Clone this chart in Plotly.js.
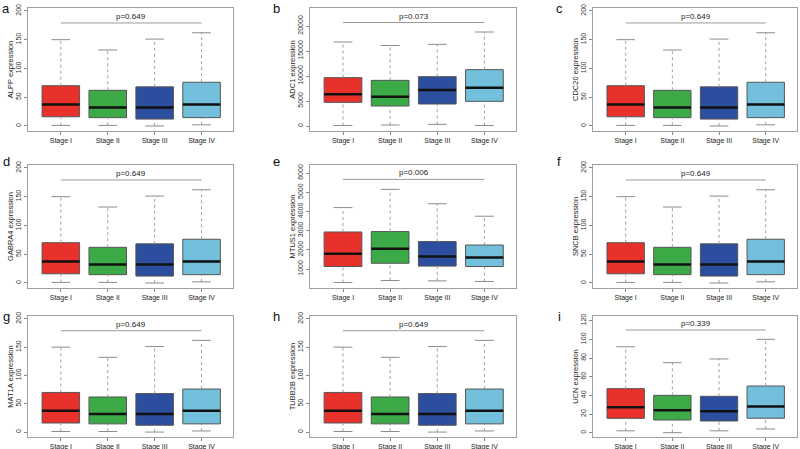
<!DOCTYPE html>
<html>
<head>
<meta charset="utf-8">
<script src="https://cdn.plot.ly/plotly-3.0.1.min.js"></script>
<style>
  html, body { margin: 0; padding: 0; background: white; }
  #chart { width: 800px; height: 449px; }
</style>
</head>
<body>
<div id="chart"></div>
<script>
  const stageLabels = ["Stage I", "Stage II", "Stage III", "Stage IV"];
  const stageColors = ["#E8312B", "#3CAB47", "#2C4E9E", "#72C0DC"];
  const panelLetters = ["a", "b", "c", "d", "e", "f", "g", "h", "i"];
  const geneNames = ["ALPP", "ADC1", "CDC20", "GABRA4", "MTUS1", "SNCB", "MAT1A", "TUBB2B", "UCN"];
  const pLabels = ["p=0.649", "p=0.073", "p=0.649", "p=0.649", "p=0.006", "p=0.649", "p=0.649", "p=0.649", "p=0.339"];

  // per-stage summaries: lower whisker, Q1, median, Q3, upper whisker
  // (panels a, c, d, f, g, h share the same look)
  const sharedLo = [1, 1, 0, 2];
  const sharedQ1 = [16, 14.5, 12, 14.5];
  const sharedMed = [37.5, 32, 32, 37.5];
  const sharedQ3 = [70, 62, 68, 76];
  const sharedHi = [150, 132, 151, 162];

  const adc1Lo = [100, 200, 330, 100];
  const adc1Q1 = [4730, 4000, 4400, 4930];
  const adc1Med = [6330, 5870, 7200, 7670];
  const adc1Q3 = [9670, 9130, 9870, 11270];
  const adc1Hi = [16800, 16100, 16330, 18800];

  const mtus1Lo = [300, 400, 380, 350];
  const mtus1Q1 = [1130, 1300, 1150, 1130];
  const mtus1Med = [1800, 2050, 1650, 1600];
  const mtus1Q3 = [2930, 2950, 2430, 2250];
  const mtus1Hi = [4200, 5150, 4400, 3750];

  const ucnLo = [2, 0, 2, 4];
  const ucnQ1 = [15.4, 13.6, 12.5, 15.5];
  const ucnMed = [27.2, 24, 23, 28];
  const ucnQ3 = [47.2, 40, 39, 50];
  const ucnHi = [92, 75, 79, 100];

  const sharedTicks = [0, 50, 100, 150, 200];
  const adc1Ticks = [0, 5000, 10000, 15000, 20000];
  const mtus1Ticks = [1000, 2000, 3000, 4000, 5000, 6000];
  const ucnTicks = [0, 20, 40, 60, 80, 100, 120];

  const sharedPLine = 179;
  const adc1PLine = 20700;
  const mtus1PLine = 5670;
  const ucnPLine = 110;

  const shared = { lo: sharedLo, q1: sharedQ1, med: sharedMed, q3: sharedQ3, hi: sharedHi, ticks: sharedTicks, range: [-8.7, 205], pLine: sharedPLine };
  const adc1 = { lo: adc1Lo, q1: adc1Q1, med: adc1Med, q3: adc1Q3, hi: adc1Hi, ticks: adc1Ticks, range: [-1000, 23600], pLine: adc1PLine };
  const mtus1 = { lo: mtus1Lo, q1: mtus1Q1, med: mtus1Med, q3: mtus1Q3, hi: mtus1Hi, ticks: mtus1Ticks, range: [10, 6420], pLine: mtus1PLine };
  const ucn = { lo: ucnLo, q1: ucnQ1, med: ucnMed, q3: ucnQ3, hi: ucnHi, ticks: ucnTicks, range: [-4.6, 125], pLine: ucnPLine };
  const panelData = [shared, adc1, shared, shared, mtus1, shared, shared, shared, ucn];

  const W = 800, H = 449;
  const colPx = [[28, 233], [310, 516], [593, 797]];
  const rowPx = [[8, 131], [165, 288], [316, 437]];
  const letterX = [6, 276, 559];
  const letterY = [9, 161, 316];
  const FONT = "Liberation Sans, Arial, sans-serif";
  const stageX = [1, 2, 3, 4];

  const traces = [];
  const layout = {
    width: W, height: H,
    margin: { l: 0, r: 0, t: 0, b: 0 },
    paper_bgcolor: "white",
    plot_bgcolor: "white",
    showlegend: false,
    font: { family: FONT, color: "#222" },
    annotations: []
  };

  panelData.forEach((d, k) => {
    const col = k % 3, row = Math.floor(k / 3);
    const n = k === 0 ? "" : String(k + 1);
    const xa = "x" + n, ya = "y" + n;

    // dotted whiskers and solid caps
    const wx = [], wy = [], cx = [], cy = [], mx = [], my = [];
    stageX.forEach((x, i) => {
      wx.push(x, x, null, x, x, null);
      wy.push(d.lo[i], d.q1[i], null, d.q3[i], d.hi[i], null);
      cx.push(x - 0.2, x + 0.2, null, x - 0.2, x + 0.2, null);
      cy.push(d.lo[i], d.lo[i], null, d.hi[i], d.hi[i], null);
      mx.push(x - 0.4, x + 0.4, null);
      my.push(d.med[i], d.med[i], null);
    });
    traces.push({
      type: "scatter", mode: "lines", x: wx, y: wy, xaxis: xa, yaxis: ya,
      line: { color: "#a0a0a0", width: 1, dash: "dot" }, hoverinfo: "skip"
    });
    traces.push({
      type: "scatter", mode: "lines", x: cx, y: cy, xaxis: xa, yaxis: ya,
      line: { color: "#8c8c8c", width: 1 }, hoverinfo: "skip"
    });

    stageX.forEach((x, i) => {
      traces.push({
        type: "box", x: [x], q1: [d.q1[i]], median: [d.med[i]], q3: [d.q3[i]],
        lowerfence: [d.q1[i]], upperfence: [d.q3[i]],
        width: 0.8, whiskerwidth: 0, boxpoints: false,
        fillcolor: stageColors[i], line: { color: "#555555", width: 1 },
        xaxis: xa, yaxis: ya, name: stageLabels[i], hoverinfo: "skip"
      });
    });

    traces.push({
      type: "scatter", mode: "lines", x: mx, y: my, xaxis: xa, yaxis: ya,
      line: { color: "#111111", width: 2.5 }, hoverinfo: "skip"
    });

    // p-value bracket
    traces.push({
      type: "scatter", mode: "lines", x: [stageX[0], stageX[3]], y: [d.pLine, d.pLine],
      xaxis: xa, yaxis: ya, line: { color: "#9a9a9a", width: 1 }, hoverinfo: "skip"
    });
    layout.annotations.push({
      xref: xa, yref: ya, x: 2.5, y: d.pLine, yanchor: "bottom", xanchor: "center",
      text: pLabels[k], showarrow: false, font: { size: 8, color: "#222" }
    });
    layout.annotations.push({
      xref: "paper", yref: "paper", x: letterX[col] / W, y: 1 - letterY[row] / H,
      xanchor: "center", yanchor: "middle", text: panelLetters[k], showarrow: false,
      font: { size: 13, color: "#111", family: FONT }
    });

    layout["xaxis" + n] = {
      domain: [colPx[col][0] / W, colPx[col][1] / W],
      anchor: ya, range: [0.3, 4.67],
      tickmode: "array", tickvals: stageX, ticktext: stageLabels,
      ticks: "outside", ticklen: 3, tickcolor: "#888",
      tickfont: { size: 7, color: "#222" },
      showline: true, mirror: true, linecolor: "#a0a0a0", linewidth: 1,
      showgrid: false, zeroline: false, fixedrange: true
    };
    layout["yaxis" + n] = {
      domain: [1 - rowPx[row][1] / H, 1 - rowPx[row][0] / H],
      anchor: xa, range: d.range,
      tickmode: "array", tickvals: d.ticks, ticktext: d.ticks.map(String),
      tickangle: -90, ticks: "outside", ticklen: 3, tickcolor: "#888",
      tickfont: { size: 7, color: "#333" },
      title: { text: geneNames[k] + " expression", font: { size: 7.5, color: "#222" }, standoff: 0 },
      showline: true, mirror: true, linecolor: "#a0a0a0", linewidth: 1,
      showgrid: false, zeroline: false, fixedrange: true
    };
  });

  Plotly.newPlot("chart", traces, layout, { displayModeBar: false, staticPlot: true });
</script>
</body>
</html>
